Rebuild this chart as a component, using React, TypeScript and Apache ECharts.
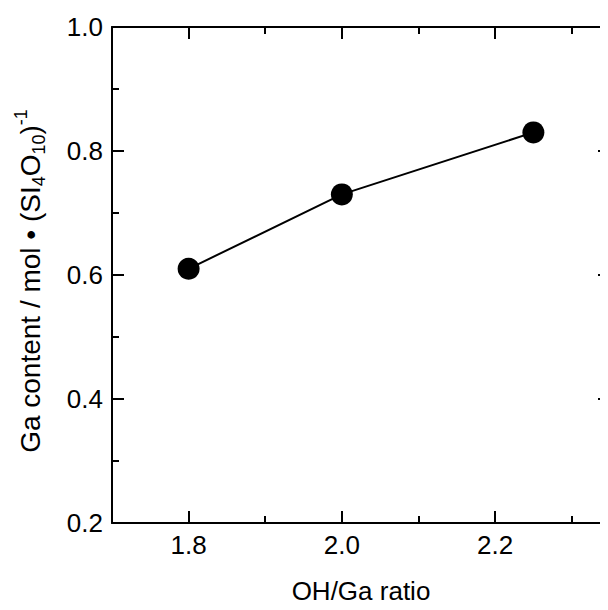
import React, { useEffect, useRef } from "react";
import * as echarts from "echarts";

const ratio = [1.8, 2.0, 2.25];
const gaContent = [0.61, 0.73, 0.83];
const xMajor = [1.8, 2.0, 2.2];
const xMinor = [1.9, 2.1, 2.3];

const FONT = "'Liberation Sans', Arial, sans-serif";

export default function App() {
  const ref = useRef<HTMLDivElement>(null);
  useEffect(() => {
    if (!ref.current) return;
    const chart = echarts.init(ref.current, undefined, { renderer: "svg" });
    const line = { show: true, lineStyle: { color: "#000", width: 2 } };
    const baseX = { type: "value", min: 1.7, max: 2.35, splitLine: { show: false }, axisLine: line };
    const majorTick = (vals: number[]) => ({ show: true, inside: true, length: 12, lineStyle: { color: "#000", width: 2 }, customValues: vals });
    const minorTick = (vals: number[]) => ({ show: true, inside: true, length: 7, lineStyle: { color: "#000", width: 2 }, customValues: vals });
    const option: any = {
      animation: false,
      backgroundColor: "#fff",
      grid: { left: 104, right: 18, top: 19, bottom: 87, containLabel: false, outerBoundsMode: "none" },
      xAxis: [
        {
          ...baseX,
          position: "bottom",
          axisTick: majorTick(xMajor),
          axisLabel: { show: true, customValues: xMajor, color: "#000", fontFamily: FONT, fontSize: 26, margin: 9, formatter: (v: number) => v.toFixed(1) },
          name: "OH/Ga ratio",
          nameLocation: "middle",
          nameGap: 55,
          nameTextStyle: { color: "#000", fontFamily: FONT, fontSize: 26 },
        },
        { ...baseX, position: "bottom", axisLine: { show: false }, axisTick: minorTick(xMinor), axisLabel: { show: false } },
        { ...baseX, position: "top", axisTick: majorTick(xMajor), axisLabel: { show: false } },
        { ...baseX, position: "top", axisLine: { show: false }, axisTick: minorTick(xMinor), axisLabel: { show: false } },
      ],
      yAxis: [
        {
          type: "value",
          position: "left",
          min: 0.2,
          max: 1.0,
          interval: 0.2,
          splitLine: { show: false },
          axisLine: line,
          axisTick: { show: true, inside: true, length: 12, lineStyle: { color: "#000", width: 2 } },
          minorTick: { show: true, splitNumber: 2, length: 7, lineStyle: { color: "#000", width: 2 } },
          minorSplitLine: { show: false },
          axisLabel: { color: "#000", fontFamily: FONT, fontSize: 26, margin: 9, formatter: (v: number) => v.toFixed(1) },
          name: "{a|Ga content / mol • (SI}{s|4}{a|O}{s|10}{a|)}{p|-1}",
          nameLocation: "middle",
          nameGap: 64,
          nameRotate: 90,
          nameTextStyle: {
            color: "#000",
            fontFamily: FONT,
            padding: [0, 12, 0, 0],
            rich: {
              a: { fontFamily: FONT, fontSize: 28, color: "#000", lineHeight: 36, verticalAlign: "middle" },
              s: { fontFamily: FONT, fontSize: 18, color: "#000", lineHeight: 36, verticalAlign: "bottom" },
              p: { fontFamily: FONT, fontSize: 18, color: "#000", lineHeight: 36, verticalAlign: "top" },
            },
          },
        },
        {
          type: "value",
          position: "right",
          min: 0.2,
          max: 1.0,
          interval: 0.2,
          splitLine: { show: false },
          axisLine: line,
          axisTick: { show: true, inside: true, length: 12, lineStyle: { color: "#000", width: 2 } },
          minorTick: { show: true, splitNumber: 2, length: 7, lineStyle: { color: "#000", width: 2 } },
          axisLabel: { show: false },
        },
      ],
      series: [
        {
          type: "line",
          xAxisIndex: 0,
          yAxisIndex: 0,
          data: ratio.map((x, i) => [x, gaContent[i]]),
          symbol: "circle",
          symbolSize: 22,
          lineStyle: { color: "#000", width: 2 },
          itemStyle: { color: "#000" },
        },
      ],
    };
    chart.setOption(option);
    return () => chart.dispose();
  }, []);
  return (
    <div style={{ width: 600, height: 602, overflow: "hidden" }}>
      <div ref={ref} style={{ width: 620, height: 602 }} />
    </div>
  );
}
